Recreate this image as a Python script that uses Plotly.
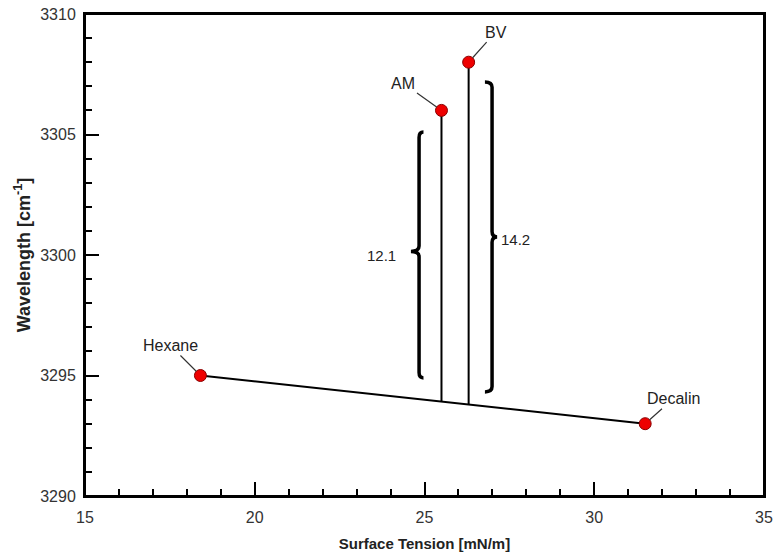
import numpy as np
import plotly.graph_objects as go

# Data
solvent_names = ["Hexane", "Decalin"]
solvent_tension = [18.4, 31.5]
solvent_wavelength = [3295.0, 3293.0]

test_names = ["AM", "BV"]
test_tension = [25.5, 26.3]
test_wavelength = [3306.0, 3308.0]

shift_labels = ["12.1", "14.2"]

# Brace geometry (data units)
brace_x = [24.84, 26.99]
brace_end_x = [24.97, 26.78]
brace_tip_x = [24.60, 27.14]
brace_top = [3305.10, 3307.18]
brace_bottom = [3294.90, 3294.32]
brace_mid = [3300.15, 3300.75]
label_x = [23.72, 27.68]
label_y = [3300.0, 3300.65]

FONT = "Liberation Sans, Arial, sans-serif"

fig = go.Figure()

# Solvent line
fig.add_trace(go.Scatter(x=solvent_tension, y=solvent_wavelength, mode="lines",
                         line=dict(color="black", width=2), showlegend=False, hoverinfo="skip"))

# Vertical drops from test points to the solvent line
for tx, ty in zip(test_tension, test_wavelength):
    base = float(np.interp(tx, solvent_tension, solvent_wavelength))
    fig.add_trace(go.Scatter(x=[tx, tx], y=[ty, base], mode="lines",
                             line=dict(color="black", width=2), showlegend=False, hoverinfo="skip"))

# Markers
fig.add_trace(go.Scatter(x=solvent_tension + test_tension, y=solvent_wavelength + test_wavelength,
                         mode="markers",
                         marker=dict(size=12, color="#ee0000", line=dict(color="#8a0000", width=1)),
                         showlegend=False))

# Braces
r = 0.22
for xc, xe, xt, yt, yb, ym in zip(brace_x, brace_end_x, brace_tip_x, brace_top, brace_bottom, brace_mid):
    path = (f"M {xe},{yt} Q {xc},{yt} {xc},{yt - r} "
            f"L {xc},{ym + r} Q {xc},{ym} {xt},{ym} "
            f"Q {xc},{ym} {xc},{ym - r} "
            f"L {xc},{yb + r} Q {xc},{yb} {xe},{yb}")
    fig.add_shape(type="path", path=path, xref="x", yref="y",
                  line=dict(color="black", width=3.5))

# Plot frame
fig.add_shape(type="rect", xref="paper", yref="paper", x0=0, x1=1, y0=0, y1=1,
              line=dict(color="black", width=2), layer="above")

for lx, ly, t in zip(label_x, label_y, shift_labels):
    fig.add_annotation(x=lx, y=ly, text=t, showarrow=False,
                       font=dict(family=FONT, size=15, color="#222"))

# Point labels with leader lines
offsets = {"Hexane": (-30, -30), "Decalin": (28, -25), "AM": (-38, -27), "BV": (27, -30)}
for name, x, y in zip(solvent_names + test_names, solvent_tension + test_tension,
                      solvent_wavelength + test_wavelength):
    ax, ay = offsets[name]
    fig.add_annotation(x=x, y=y, text=name, showarrow=True, arrowhead=0, arrowwidth=1.2,
                       arrowcolor="#333", ax=ax, ay=ay, standoff=6,
                       font=dict(family=FONT, size=16, color="#222"))

axis_common = dict(showline=True, linecolor="black", linewidth=2, mirror=True,
                   ticks="inside", tickwidth=2, ticklen=14, tickcolor="black",
                   showgrid=False, zeroline=False, automargin=False,
                   ticklabeloverflow="allow",
                   tickfont=dict(family=FONT, size=16, color="#333"))

fig.update_xaxes(range=[15, 35], tickvals=[15, 20, 25, 30, 35],
                 minor=dict(ticks="inside", ticklen=7, tickwidth=1.5, tickcolor="black", dtick=1),
                 ticklabelstandoff=6,
                 title=dict(text="<b>Surface Tension [mN/m]</b>",
                            font=dict(family=FONT, size=15, color="#222"), standoff=13),
                 **axis_common)
fig.update_yaxes(range=[3290, 3310], tickvals=[3290, 3295, 3300, 3305, 3310],
                 minor=dict(ticks="inside", ticklen=7, tickwidth=1.5, tickcolor="black", dtick=1),
                 ticklabelstandoff=4,
                 title=dict(text="<b>Wavelength [cm<sup>-1</sup>]</b>",
                            font=dict(family=FONT, size=18, color="#222"), standoff=5),
                 **axis_common)

fig.update_layout(width=776, height=556, plot_bgcolor="white", paper_bgcolor="white",
                  margin=dict(l=85, r=12, t=14, b=60), showlegend=False)

fig.write_html("out.html", config={"displayModeBar": False},
               post_script="document.body.style.margin='0';document.body.style.overflow='hidden';")
